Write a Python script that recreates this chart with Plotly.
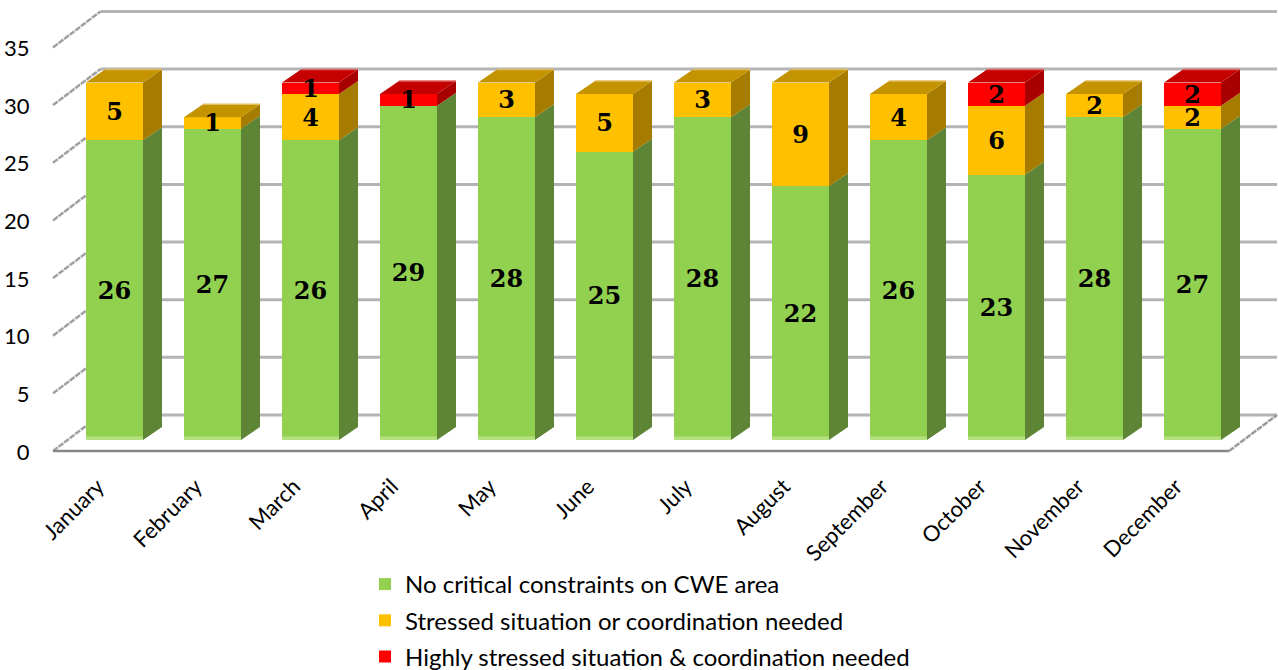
import plotly.graph_objects as go

months = ["January","February","March","April","May","June","July","August","September","October","November","December"]
no_critical = [26,27,26,29,28,25,28,22,26,23,28,27]
stressed = [5,1,4,0,3,5,3,9,4,6,2,2]
highly = [0,0,1,1,0,0,0,0,0,2,0,2]
names = ["No critical constraints on CWE area","Stressed situation or coordination needed","Highly stressed situation & coordination needed"]
y_ticks = [0,5,10,15,20,25,30,35]

FRONT = ["#92D050","#FFC000","#FF0000"]
SIDE = ["#5E8535","#A67C00","#A80000"]
TOP = ["#5E8535","#C49300","#C40000"]
RIM = ["#5E8535","#E0BE60","#E06464"]
STRIP = "#B5E07F"

# pixel geometry of the pseudo-3D projection
W, H = 1278, 670
L, B = 36, 208
PX_PER_X, PX_PER_Y = 98.0, 11.53
X0_PX, Y0_PX = 114.5, 440
BAR_W = 57/PX_PER_X
BAR_DX, BAR_DY = 19/PX_PER_X, 13/PX_PER_Y
WALL_BACK = (440-415)/PX_PER_Y
WALL_FRONT = (440-451)/PX_PER_Y
WALL_DX = 47.5/PX_PER_X
LEFT_FRONT = (53-X0_PX)/PX_PER_X
RIGHT_FRONT = (1229-X0_PX)/PX_PER_X
LABEL_SHIFT = 2.5/PX_PER_Y
TICK_SHIFT = 1.0/PX_PER_Y

xs = list(range(len(months)))
series = [no_critical, stressed, highly]
fig = go.Figure()

for s, name, col in zip(series, names, FRONT):
    fig.add_bar(x=xs, y=s, name=name, width=BAR_W, marker=dict(color=col, line=dict(width=0)),
                legendgroup=name, hoverinfo="skip")

def poly_trace(px, py, col):
    fig.add_scatter(x=px, y=py, mode="lines", fill="toself", fillcolor=col, line=dict(width=0),
                    showlegend=False, hoverinfo="skip")

# side faces and top faces
for k, s in enumerate(series):
    px, py, tx, ty, rx, ry = [], [], [], [], [], []
    for i in xs:
        base = sum(series[j][i] for j in range(k))
        top = base + s[i]
        if s[i] == 0:
            continue
        r = i + BAR_W/2
        l = i - BAR_W/2
        px += [r, r+BAR_DX, r+BAR_DX, r, None]
        py += [base, base+BAR_DY, top+BAR_DY, top, None]
        if all(series[j][i] == 0 for j in range(k+1, 3)):
            tx += [l, l+BAR_DX, r+BAR_DX, r, None]
            ty += [top, top+BAR_DY, top+BAR_DY, top, None]
            rx += [l+BAR_DX, r+BAR_DX, None]
            ry += [top+BAR_DY, top+BAR_DY, None]
    poly_trace(px, py, SIDE[k])
    if tx:
        poly_trace(tx, ty, TOP[k])
        fig.add_scatter(x=rx, y=ry, mode="lines", line=dict(color=RIM[k], width=1.5),
                        showlegend=False, hoverinfo="skip")

# light strip along the foot of each bar
sx, sy = [], []
for i in xs:
    l, r = i-BAR_W/2, i+BAR_W/2
    sx += [l, r, r, l, None]
    sy += [0, 0, 0.3, 0.3, None]
poly_trace(sx, sy, STRIP)

# data labels
lx, ly, lt = [], [], []
for k, s in enumerate(series):
    for i in xs:
        if s[i]:
            lx.append(i)
            ly.append(sum(series[j][i] for j in range(k)) + s[i]/2 - LABEL_SHIFT)
            lt.append(str(s[i]))
fig.add_scatter(x=lx, y=ly, text=lt, mode="text", showlegend=False, hoverinfo="skip",
                textfont=dict(family="DejaVu Serif", size=24, color="black", weight="bold"))

# wall grid
shapes = []
left_back = LEFT_FRONT + WALL_DX
right_back = (1277-X0_PX)/PX_PER_X
for t in y_ticks:
    shapes.append(dict(type="line", xref="x", yref="y", layer="below", x0=left_back, x1=right_back,
                       y0=t+WALL_BACK, y1=t+WALL_BACK, line=dict(color="#B4B4B4", width=3)))
    shapes.append(dict(type="line", xref="x", yref="y", layer="below", x0=LEFT_FRONT, x1=left_back,
                       y0=t+WALL_FRONT, y1=t+WALL_BACK, line=dict(color="#A0A0A0", width=2.5, dash="6px,1px")))
shapes.append(dict(type="line", xref="x", yref="y", layer="below", x0=LEFT_FRONT, x1=RIGHT_FRONT,
                   y0=WALL_FRONT, y1=WALL_FRONT, line=dict(color="#868686", width=2.5)))
shapes.append(dict(type="line", xref="x", yref="y", layer="below", x0=RIGHT_FRONT, x1=right_back,
                   y0=WALL_FRONT, y1=WALL_BACK, line=dict(color="#9A9A9A", width=2.5, dash="6px,1px")))

fig.update_layout(
    width=W, height=H, barmode="stack", bargap=0, plot_bgcolor="white", paper_bgcolor="white",
    margin=dict(l=L, r=0, t=0, b=B, pad=0, autoexpand=False),
    shapes=shapes,
    font=dict(family="Lato", color="black"),
    xaxis=dict(range=[(L-X0_PX)/PX_PER_X, (W-X0_PX)/PX_PER_X], tickmode="array",
               tickvals=[i-0.17 for i in xs], ticktext=months, tickangle=-45, showgrid=False,
               zeroline=False, showline=False, ticks="outside", ticklen=2, tickcolor="rgba(0,0,0,0)",
               tickfont=dict(size=22, family="Lato")),
    yaxis=dict(range=[(Y0_PX-(H-B))/PX_PER_Y, Y0_PX/PX_PER_Y], tickmode="array",
               tickvals=[t+WALL_FRONT-TICK_SHIFT for t in y_ticks], ticktext=[str(t) for t in y_ticks],
               showgrid=False, zeroline=False, showline=False, ticks="outside", ticklen=1,
               tickcolor="rgba(0,0,0,0)", tickfont=dict(size=22, family="Lato")),
    legend=dict(x=(365-L)/(W-L), xanchor="left", y=(H-B-562)/(H-B), yanchor="top", traceorder="grouped",
                tracegroupgap=2, font=dict(size=24, family="Lato"), bgcolor="rgba(0,0,0,0)"),
)
fig.write_html("out.html", post_script="document.body.style.margin='0';", config=dict(displayModeBar=False))
